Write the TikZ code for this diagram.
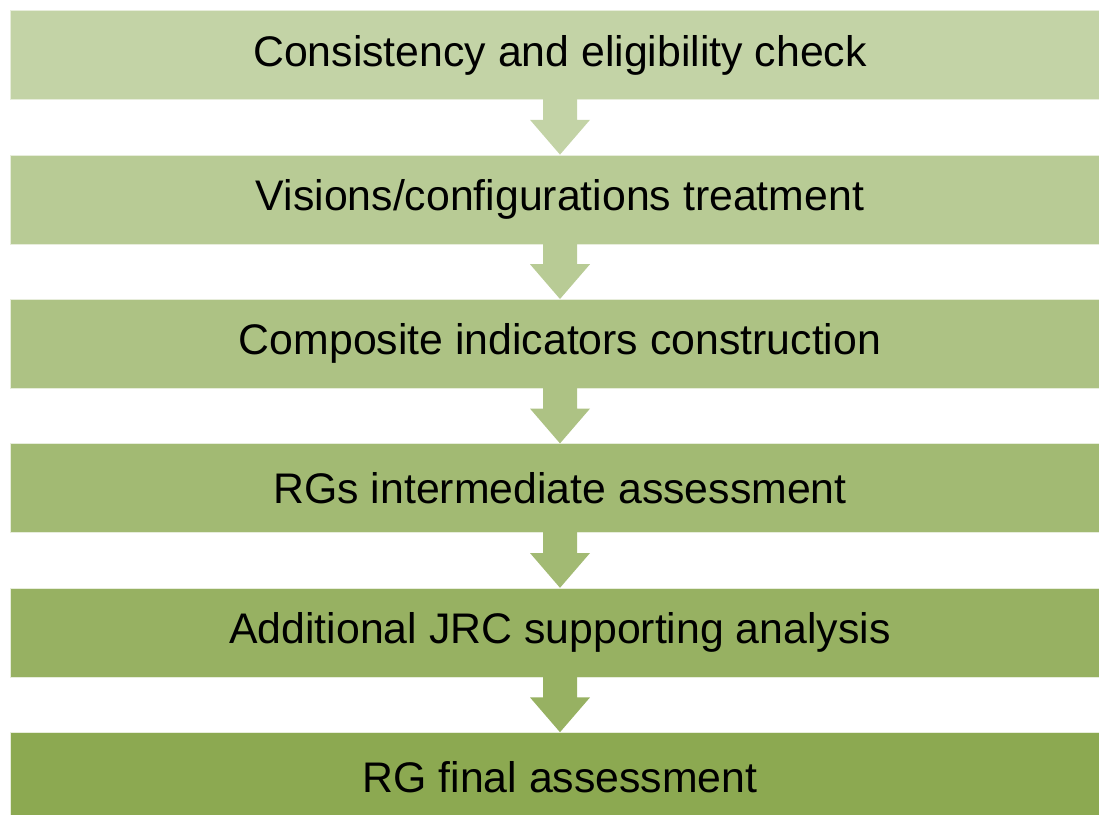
\documentclass[tikz,border=0pt]{standalone}
\usepackage{fontspec}
\setmainfont{Liberation Sans}
\usetikzlibrary{calc}
\definecolor{steplight}{HTML}{C3D3A6}
\definecolor{stepdeep}{HTML}{8CA951}
\tikzset{
  % etapper
  stage/.style={rectangle,draw=white!60!steplight,line width=0.6pt,inner sep=0pt,
                minimum width=1100pt,minimum height=89pt,
                font=\fontsize{42.8}{48}\selectfont,text=black},
  downarr/.style={line width=0pt},
}

\begin{document}
\begin{tikzpicture}[x=1pt,y=-1pt]
  \useasboundingbox (0,0) rectangle (1099,814);
  \clip (0,0) rectangle (1099,814);
  \foreach \txt [count=\i] in {Consistency and eligibility check,
      Visions/configurations treatment,
      Composite indicators construction,
      RGs intermediate assessment,
      Additional JRC supporting analysis,
      RG final assessment} {
    \pgfmathtruncatemacro{\mix}{(\i-1)*20}
    \colorlet{fillnow}{stepdeep!\mix!steplight}
    \node[stage,fill=fillnow] (s\i) at (560,{55+(\i-1)*144.4}) {\txt};
  }
  % pilar mellan etapperna
  \foreach \i [evaluate=\i as \j using int(\i+1)] in {1,...,5} {
    \pgfmathtruncatemacro{\mix}{(\i-1)*20}
    \colorlet{fillnow}{stepdeep!\mix!steplight}
    \fill[fillnow,downarr] ($(s\i.south)+(-17,-1)$) -- ($(s\i.south)+(-17,20)$)
      -- ($(s\i.south)+(-30,20)$) -- (s\j.north) -- ($(s\i.south)+(30,20)$)
      -- ($(s\i.south)+(17,20)$) -- ($(s\i.south)+(17,-1)$) -- cycle;
  }
\end{tikzpicture}
\end{document}
